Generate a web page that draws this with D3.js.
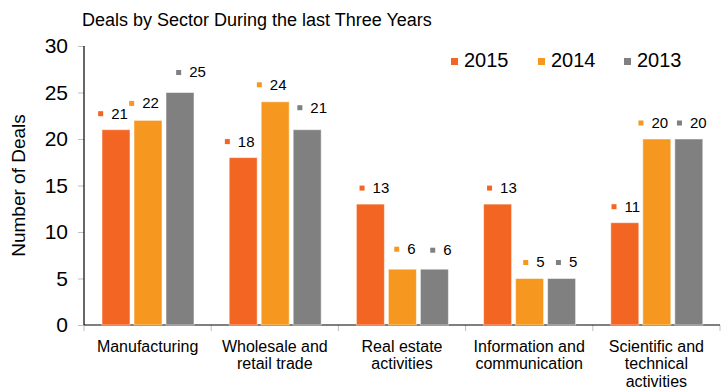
<!DOCTYPE html>
<html>
<head>
<meta charset="utf-8">
<script src="https://cdn.jsdelivr.net/npm/d3@7"></script>
<style>
  html, body { margin: 0; padding: 0; background: #fff; }
  svg { display: block; font-family: "Liberation Sans", Arial, sans-serif; }
</style>
</head>
<body>
<svg id="chart" width="721" height="389"></svg>
<script>
// Deals by sector, three years side by side
const categories = [
  ["Manufacturing"],
  ["Wholesale and", "retail trade"],
  ["Real estate", "activities"],
  ["Information and", "communication"],
  ["Scientific and", "technical", "activities"]
];
const seriesNames = ["2015", "2014", "2013"];
const values2015 = [21, 18, 13, 13, 11];
const values2014 = [22, 24, 6, 5, 20];
const values2013 = [25, 21, 6, 5, 20];
const yTicks = [0, 5, 10, 15, 20, 25, 30];

// Hand adjustments of the value labels away from their centred spot, [dx, dy] per series
const labelNudge = [
  [[-3, 0], [-4, -1], [11, -4]],
  [[-3.5, 0], [-3.5, -1], [5, -6]],
  [[4, 0], [2.5, -4], [6.5, -3]],
  [[4.3, 0], [4.3, 0], [5, 0]],
  [[1, 0], [-3.5, 0], [3, 0]]
];

const colors = { "2015": "#F36522", "2014": "#F6971F", "2013": "#808080" };
const seriesValues = { "2015": values2015, "2014": values2014, "2013": values2013 };

const svg = d3.select("#chart");
const plotLeft = 84, plotRight = 720, plotTop = 46, plotBottom = 325;

const catKeys = categories.map(c => c.join(" "));
const x0 = d3.scaleBand().domain(catKeys).range([plotLeft, plotRight]);
const x1 = d3.scaleBand().domain(seriesNames).range([18, 110]).paddingInner(0.125);
const y = d3.scaleLinear().domain([0, 30]).range([plotBottom, plotTop]);

// Title
svg.append("text")
  .attr("x", 82).attr("y", 26)
  .attr("font-size", 18).attr("fill", "#000")
  .text("Deals by Sector During the last Three Years");

// Y axis
const yAxis = svg.append("g").attr("transform", `translate(${plotLeft},0)`)
  .call(d3.axisLeft(y).tickValues(yTicks).tickSize(6).tickPadding(10));
yAxis.select(".domain").remove();
yAxis.selectAll(".tick line").attr("stroke", "#bfbfbf");
yAxis.selectAll(".tick text").attr("font-size", 21).attr("fill", "#000")
  .attr("font-family", "Liberation Sans, Arial, sans-serif");
svg.append("line").attr("x1", plotLeft).attr("x2", plotLeft).attr("y1", plotTop).attr("y2", plotBottom)
  .attr("stroke", "#000").attr("stroke-width", 1.2);

// Y axis title
svg.append("text")
  .attr("transform", `translate(20,${(plotTop + plotBottom) / 2}) rotate(-90)`)
  .attr("text-anchor", "middle").attr("dominant-baseline", "middle")
  .attr("font-size", 19).attr("fill", "#000")
  .text("Number of Deals");

// X axis with boundary ticks between categories
const bounds = catKeys.map(k => x0(k)).concat([plotRight]);
svg.append("g").selectAll("line").data(bounds).join("line")
  .attr("x1", d => d).attr("x2", d => d)
  .attr("y1", plotBottom).attr("y2", plotBottom + 6)
  .attr("stroke", "#bfbfbf");
svg.append("line").attr("x1", plotLeft).attr("x2", plotRight).attr("y1", plotBottom).attr("y2", plotBottom)
  .attr("stroke", "#000").attr("stroke-width", 1.2);

// Category labels
const catLabels = svg.append("g").selectAll("text").data(categories).join("text")
  .attr("text-anchor", "middle")
  .attr("font-size", 16).attr("fill", "#000")
  .attr("x", (d, i) => x0(catKeys[i]) + x0.bandwidth() / 2);
catLabels.selectAll("tspan").data(d => d).join("tspan")
  .attr("x", function () { return d3.select(this.parentNode).attr("x"); })
  .attr("y", (d, j) => 351.5 + j * 17.5)
  .text(d => d);

// Bars
const groups = svg.append("g").selectAll("g").data(catKeys).join("g")
  .attr("transform", d => `translate(${x0(d)},0)`);

groups.each(function (cat, ci) {
  const g = d3.select(this);
  seriesNames.forEach((s, si) => {
    const v = seriesValues[s][ci];
    const bx = x1(s);
    g.append("rect")
      .attr("x", bx).attr("y", y(v))
      .attr("width", x1.bandwidth()).attr("height", y(0) - y(v))
      .attr("fill", colors[s])
      .attr("stroke", "#ffffff").attr("stroke-opacity", 0.5).attr("stroke-width", 1);

    // value label: small series key + number, centred over the bar, then nudged
    const [dx, dy] = labelNudge[ci][si];
    const ly = y(v) - 15 + dy;
    const txt = g.append("text")
      .attr("y", ly)
      .attr("dominant-baseline", "middle")
      .attr("font-size", 15).attr("fill", "#000")
      .text(v);
    const tw = txt.node().getComputedTextLength();
    const groupW = 13 + tw;
    const sqX = bx + x1.bandwidth() / 2 - groupW / 2 + dx;
    txt.attr("x", sqX + 13);
    g.append("rect")
      .attr("x", sqX).attr("y", ly - 3.5)
      .attr("width", 5).attr("height", 5)
      .attr("fill", colors[s]);
  });
});

// Legend
const legendX = [451, 538, 624];
const legend = svg.append("g").selectAll("g").data(seriesNames).join("g")
  .attr("transform", (d, i) => `translate(${legendX[i]},62)`);
legend.append("rect").attr("x", 0).attr("y", -4).attr("width", 7).attr("height", 7)
  .attr("fill", d => colors[d]);
legend.append("text").attr("x", 13).attr("y", 0)
  .attr("dominant-baseline", "middle")
  .attr("font-size", 20).attr("fill", "#000")
  .text(d => d);
</script>
</body>
</html>
